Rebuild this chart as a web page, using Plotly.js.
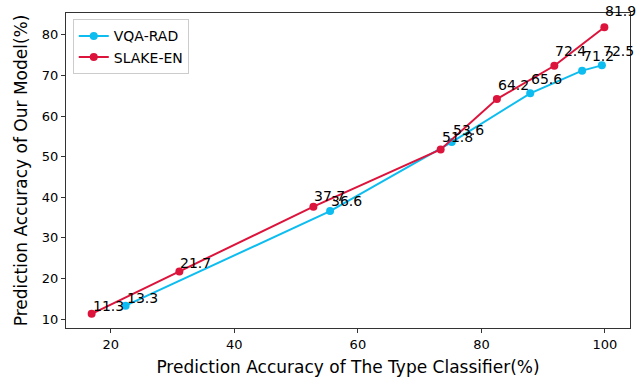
<!DOCTYPE html>
<html>
<head>
<meta charset="utf-8">
<script src="https://cdn.plot.ly/plotly-3.0.1.min.js"></script>
<style>html,body{margin:0;padding:0;background:#fff;}#chart{width:644px;height:377px;}</style>
</head>
<body>
<div id="chart"></div>
<script>
const vqaX = [22.4, 55.5, 75.2, 87.9, 96.3, 99.5];
const vqaY = [13.3, 36.6, 53.6, 65.6, 71.2, 72.5];
const slakeX = [16.9, 31.1, 52.8, 73.4, 82.5, 91.8, 99.9];
const slakeY = [11.3, 21.7, 37.7, 51.8, 64.2, 72.4, 81.9];
const seriesNames = ['VQA-RAD', 'SLAKE-EN'];
const seriesColors = ['#0dbdf0', '#dc143c'];

const FONT = 'DejaVu Sans, sans-serif';

function trace(x, y, name, color) {
  return {
    x: x, y: y, name: name, type: 'scatter', mode: 'lines+markers',
    line: {color: color, width: 2},
    marker: {color: color, size: 8},
    hoverinfo: 'skip'
  };
}

const data = [
  trace(vqaX, vqaY, seriesNames[0], seriesColors[0]),
  trace(slakeX, slakeY, seriesNames[1], seriesColors[1])
];

const annotations = [];
[[vqaX, vqaY], [slakeX, slakeY]].forEach(function(s) {
  s[0].forEach(function(xv, i) {
    annotations.push({
      x: xv, y: s[1][i] * 1.03, xref: 'x', yref: 'y',
      text: s[1][i].toFixed(1), showarrow: false,
      xanchor: 'left', yanchor: 'bottom', xshift: -1, yshift: -4,
      font: {family: FONT, size: 14, color: '#000'}
    });
  });
});

const layout = {
  width: 644, height: 377,
  margin: {l: 66, r: 14, t: 13, b: 49},
  paper_bgcolor: '#fff', plot_bgcolor: '#fff',
  font: {family: FONT, color: '#000'},
  showlegend: true,
  legend: {
    x: 0.012, y: 0.98, xanchor: 'left', yanchor: 'top',
    bordercolor: '#cccccc', borderwidth: 1, bgcolor: 'rgba(255,255,255,0.8)',
    font: {family: FONT, size: 14, color: '#000'}
  },
  xaxis: {
    range: [12.75, 104.05], tickvals: [20, 40, 60, 80, 100],
    showgrid: false, zeroline: false,
    showline: true, linecolor: '#333', linewidth: 1, mirror: true,
    ticks: 'outside', ticklen: 4, tickcolor: '#333',
    tickfont: {family: FONT, size: 13, color: '#000'},
    title: {text: 'Prediction Accuracy of The Type Classifier(%)', font: {family: FONT, size: 17, color: '#000'}, standoff: 10}
  },
  yaxis: {
    range: [7.8, 85.4], tickvals: [10, 20, 30, 40, 50, 60, 70, 80],
    showgrid: false, zeroline: false,
    showline: true, linecolor: '#333', linewidth: 1, mirror: true,
    ticks: 'outside', ticklen: 4, tickcolor: '#333',
    tickfont: {family: FONT, size: 13, color: '#000'},
    title: {text: 'Prediction Accuracy of Our Model(%)', font: {family: FONT, size: 17, color: '#000'}, standoff: 9}
  },
  annotations: annotations
};

Plotly.newPlot('chart', data, layout, {displayModeBar: false, staticPlot: true});
</script>
</body>
</html>
